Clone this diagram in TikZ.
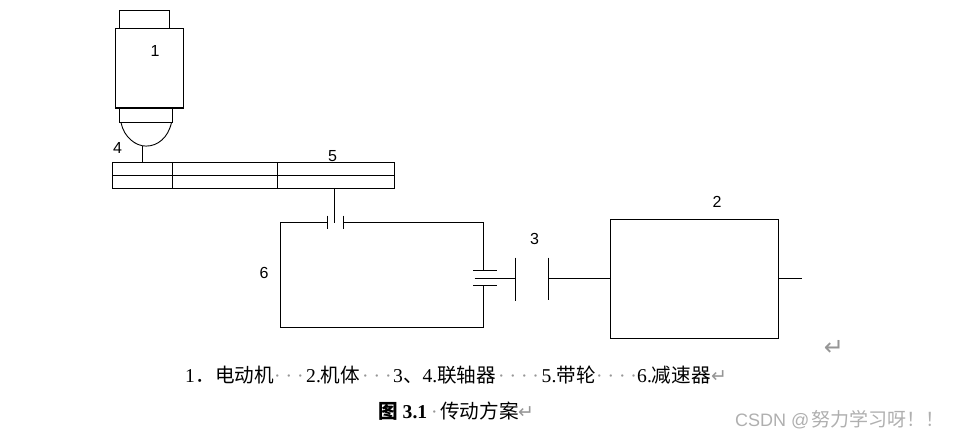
\documentclass[tikz,border=0pt]{standalone}
\usepackage{fontspec}
\setmainfont{Liberation Serif}
\newfontfamily\cjk{Noto Sans CJK SC}
\newfontfamily\labelfont{Liberation Sans}
\newfontfamily\symbfont{DejaVu Sans}
\usetikzlibrary{calc,positioning}
\definecolor{markgray}{RGB}{150,150,150}
\definecolor{wmgray}{RGB}{175,175,175}
\tikzset{
  part/.style={draw=black, line width=1.2pt},
  partnum/.style={font=\labelfont\fontsize{16}{16}\selectfont, inner sep=0pt},
  captxt/.style={anchor=base west, inner sep=0pt, font=\fontsize{19.6}{20}\selectfont},
  capmark/.style={anchor=base west, inner sep=0pt, text=markgray, font=\fontsize{19.6}{20}\selectfont},
  retmark/.style={anchor=base west, inner sep=0pt, text=markgray, font=\symbfont\fontsize{19}{19}\selectfont},
}
\begin{document}
\begin{tikzpicture}[x=1pt, y=-1pt]
  \useasboundingbox (0,-0.6) rectangle (953,437.4);

  % Motor with cap, neck and dome
  \draw[part] (119.5,28) -- (119.5,10) -- (169.7,10) -- (169.7,28);
  \draw[part] (115.3,28) rectangle (183.5,107.5);
  \draw[part] (119.5,107.5) -- (119.5,122) -- (172.5,122) -- (172.5,107.5);
  \draw[part, line width=0.9pt] (121,122) .. controls (124,137) and (136,145.5) .. (146,145.5)
    .. controls (158,145.5) and (168,137) .. (171.5,122);
  \draw[part] (142.3,145.5) -- (142.3,162);

  % Belt
  \draw[part] (112.3,162) rectangle (394.5,188);
  \draw[part] (112.3,175) -- (394.5,175);
  \foreach \xdiv in {172.5,277.5}
    \draw[part] (\xdiv,162) -- (\xdiv,188);

  % Reducer loop with its two plate pairs
  \draw[part] (334.3,188) -- (334.3,222.5);
  \draw[part] (327.7,215) -- (327.7,228);
  \draw[part] (343.3,215) -- (343.3,228);
  \draw[part] (327.7,222) -- (280.3,222) -- (280.3,327) -- (483.3,327) -- (483.3,285);
  \draw[part] (343.3,222) -- (483.3,222) -- (483.3,270);
  \draw[part] (473.3,270) -- (497,270);
  \draw[part] (473.3,285) -- (497,285);
  \draw[part] (474.5,278) -- (515.3,278);

  % Coupling and machine body
  \draw[part] (515.3,257) -- (515.3,300.5);
  \draw[part] (548.3,257) -- (548.3,299.5);
  \draw[part] (548.3,278) -- (610.3,278);
  \draw[part] (610.3,219.3) rectangle (778.7,338);
  \draw[part] (778.7,278) -- (802,278);

  % Part numbers
  \node[partnum] (num1) at (155,50) {1};
  \node[partnum] (num4) at (117.5,147) {4};
  \node[partnum] (num5) at (332.5,155) {5};
  \node[partnum] (num6) at (264,272) {6};
  \node[partnum] (num3) at (534.5,238.5) {3};
  \node[partnum] (num2) at (717,201) {2};

  \node[text=markgray, inner sep=0pt, font=\symbfont\fontsize{24}{24}\selectfont] (retbig) at (834,347) {↵};

  % Legend line
  \node[captxt] (leg1) at (185,382) {1\cjk ．};
  \node[captxt] (leg1t) at (215,382) {\cjk 电动机};
  \node[capmark] (dots1) at (274,382) {· · ·};
  \node[captxt] (leg2) at (306,382) {2.\cjk 机体};
  \node[capmark] (dots2) at (362,382) {· · ·};
  \node[captxt] (leg3) at (393,382) {3\cjk 、\rm 4.\cjk 联轴器};
  \node[capmark] (dots3) at (498,382) {· · · ·};
  \node[captxt] (leg5) at (541.5,382) {5.\cjk 带轮};
  \node[capmark] (dots4) at (596,382) {· · · ·};
  \node[captxt] (leg6) at (637,382) {6.\cjk 减速器};
  \node[retmark] (ret1) at (711,382) {↵};

  % Caption
  \node[captxt] (capfig) at (378,417.5) {\textbf{\cjk 图} \textbf{3.1}};
  \node[capmark] (capdot) at (431,417.5) {·};
  \node[captxt] (captitle) at (440,417.5) {\cjk 传动方案};
  \node[retmark] (ret2) at (518,417.5) {↵};

  \node[anchor=base west, inner sep=0pt, text=wmgray, font=\labelfont\fontsize{18}{18}\selectfont] (wmark) at (735,426) {CSDN @\hspace{2pt}\fontsize{19}{19}\selectfont\cjk 努力学习呀！！};
\end{tikzpicture}
\end{document}
